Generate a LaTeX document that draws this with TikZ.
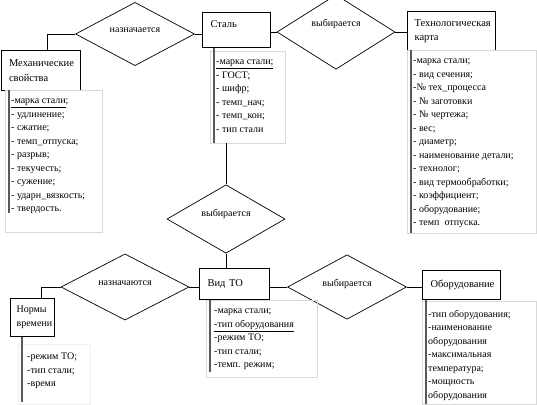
\documentclass[tikz,border=0pt]{standalone}
\usepackage{fontspec}
\setmainfont{Liberation Serif}
\usetikzlibrary{shapes.geometric, positioning, calc}
\tikzset{
    entity/.style={rectangle, draw, line width=1.1pt, anchor=north west, align=left, inner xsep=8pt, inner ysep=0pt, font=\fontsize{10.5}{14.5}\selectfont},
    rel/.style={diamond, draw, line width=0.7pt, inner sep=0pt, minimum width=119pt, minimum height=57pt, text depth=8pt, font=\fontsize{10}{12}\selectfont},
    attr/.style={rectangle, draw=black!15, anchor=north west, inner xsep=6pt, inner ysep=9pt, font=\fontsize{10}{13.5}\selectfont},
    attrline/.style={draw=black!65, line width=1.4pt},
    link/.style={draw, line width=0.8pt}
}
\newcommand{\attrlist}[3]{\parbox[t][#1][t]{#2}{\raggedright #3}}

\begin{document}
\begin{tikzpicture}[x=1pt, y=-1pt]
    \path[fill=white, use as bounding box] (0,0) rectangle (537,404);

    % entities
    \node[entity, text width=63pt, minimum height=40pt] (mech) at (0.5,50) {Механические\\свойства};
    \node[entity, text width=52pt, minimum height=35pt, text depth=13pt] (stal) at (202,12) {Сталь};
    \node[entity, text width=74pt, inner xsep=7pt, minimum height=39pt] (tk) at (407,11) {Технологическая\\карта};
    \node[entity, text width=54pt, minimum height=31pt] (vid) at (199,268) {Вид ТО};
    \node[entity, text width=32pt, inner xsep=6pt, minimum height=38pt, font=\fontsize{10}{14}\selectfont] (norm) at (10,298) {Нормы\\времени};
    \node[entity, text width=62pt, minimum height=29pt] (obor) at (422,270) {Оборудование};

    % relations
    \node[rel] (assign) at (135,34) {назначается};
    \node[rel, minimum width=118pt, minimum height=63pt, text depth=18pt] (choose) at (336,32) {выбирается};
    \node[rel, minimum width=118pt, minimum height=55pt, text depth=12pt] (choosevid) at (226,219) {выбирается};
    \node[rel, minimum width=128pt] (assignnorm) at (125,287) {назначаются};
    \node[rel] (chooseobor) at (347,287) {выбирается};

    % attribute lists
    \node[attr] (mechattr) at (5,90) {\attrlist{124pt}{85pt}{\underline{-марка стали};\\- удлинение;\\- сжатие;\\- темп\_отпуска;\\- разрыв;\\- текучесть;\\- сужение;\\- ударн\_вязкость;\\- твердость.}};
    \node[attr] (stalattr) at (210,51) {\attrlist{74pt}{63pt}{\underline{-марка стали;}\\- ГОСТ;\\- шифр;\\- темп\_нач;\\- темп\_кон;\\- тип стали}};
    \node[attr] (tkattr) at (407,50) {\attrlist{165pt}{117pt}{-марка стали;\\- вид сечения;\\-№ тех\_процесса\\- № заготовки\\- № чертежа;\\- вес;\\- диаметр;\\- наименование детали;\\- технолог;\\- вид термообработки;\\- коэффициент;\\- оборудование;\\- темп\ \ отпуска.}};
    \node[attr, inner xsep=8pt] (vidattr) at (206,300) {\attrlist{59pt}{95pt}{-марка стали;\\\underline{-тип оборудования}\\-режим ТО;\\-тип стали;\\-темп. режим;}};
    \node[attr, draw=black!6, inner xsep=9pt] (normattr) at (18,344) {\attrlist{42pt}{54pt}{-режим ТО;\\-тип стали;\\-время}};
    \node[attr] (oborattr) at (422,301) {\attrlist{85pt}{102pt}{-тип оборудования;\\-наименование\\оборудования\\-максимальная\\температура;\\-мощность\\оборудования}};

    % marks on the left of the lists
    \draw[attrline] ([xshift=4pt]mechattr.north west) -- ([xshift=4pt, yshift=19pt]mechattr.south west);
    \draw[attrline] ([xshift=4pt]stalattr.south west |- stal.south) -- ([xshift=4pt]stalattr.south west);
    \draw[attrline] ([xshift=4pt]tkattr.north west) -- ([xshift=4pt]tkattr.south west);
    \draw[attrline] ([xshift=4pt]vidattr.south west |- vid.south) -- ([xshift=4pt, yshift=5pt]vidattr.south west);
    \draw[attrline] ([xshift=4pt]normattr.south west |- norm.south) -- ([xshift=4pt, yshift=2pt]normattr.south west);
    \draw[attrline] ([xshift=4pt]oborattr.south west |- obor.south) -- ([xshift=4pt]oborattr.south west);

    % connectors
    \draw[link] (assign.west) -| ([xshift=6.5pt]mech.north);
    \draw[link] (assign.east) -- (assign.east -| stal.west);
    \draw[link] (stal.east |- choose.west) -- (choose.west);
    \draw[link] (choose.east) -- (choose.east -| tk.west);
    \draw[link] (choosevid.north |- stalattr.south) -- (choosevid.north);
    \draw[link] (choosevid.south) -- (choosevid.south |- vid.north);
    \draw[link] (assignnorm.west) -| ([xshift=9pt]norm.north);
    \draw[link] (assignnorm.east) -- (assignnorm.east -| vid.west);
    \draw[link] (vid.east |- chooseobor.west) -- (chooseobor.west);
    \draw[link] (chooseobor.east) -- (chooseobor.east -| obor.west);
\end{tikzpicture}
\end{document}
